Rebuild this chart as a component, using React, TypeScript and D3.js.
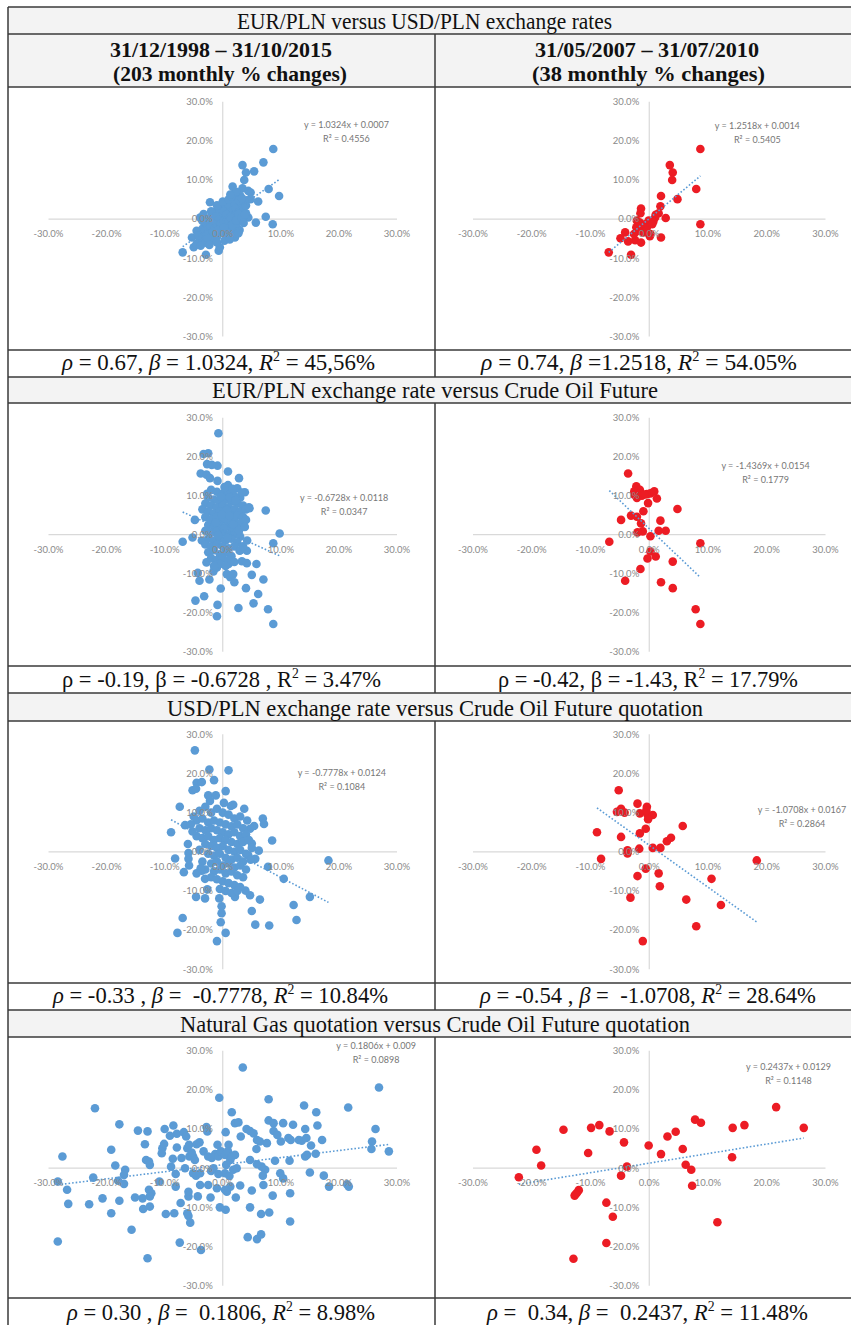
import React from "react";
import * as d3 from "d3";

const W = 851;
const H = 1325;
const BLUE = "#5b9bd5";
const RED = "#ec1c24";

// ---------- texts ----------
const rowTitles = [
  "EUR/PLN versus USD/PLN exchange rates",
  "EUR/PLN exchange rate versus Crude Oil Future",
  "USD/PLN exchange rate versus Crude Oil Future quotation",
  "Natural Gas quotation versus Crude Oil Future quotation",
];
const headerLeft = ["31/12/1998 – 31/10/2015", "(203 monthly % changes)"];
const headerRight = ["31/05/2007 – 31/07/2010", "(38 monthly % changes)"];

// caption parts: text after ρ, after β, after R²
const captionParts: string[][] = [
  [" = 0.67, ", " = 1.0324, ", " = 45,56%"],
  [" = 0.74, ", " =1.2518, ", " = 54.05%"],
  [" = -0.19, ", " = -0.6728 , ", " = 3.47%"],
  [" = -0.42, ", " = -1.43, ", " = 17.79%"],
  [" = -0.33 , ", " =  -0.7778, ", " = 10.84%"],
  [" = -0.54 , ", " =  -1.0708, ", " = 28.64%"],
  [" = 0.30 , ", " =  0.1806, ", " = 8.98%"],
  [" =  0.34, ", " =  0.2437, ", " = 11.48%"],
];
const captionItalic = [true, true, false, false, true, true, true, true];

const slopes = [1.0324, 1.2518, -0.6728, -1.4369, -0.7778, -1.0708, 0.1806, 0.2437];
const intercepts = [0.0007, 0.0014, 0.0118, 0.0154, 0.0124, 0.0167, 0.009, 0.0129];
const rSquared = [0.4556, 0.5405, 0.0347, 0.1779, 0.1084, 0.2864, 0.0898, 0.1148];

const tickValues = [-30, -20, -10, 0, 10, 20, 30];

// ---------- data (monthly % changes) ----------
const eurUsdFull: [number, number][] = [
  [8.7, 17.9], [3.4, 13.8], [7.0, 14.5], [5.4, 12.2], [4.0, 11.9], [3.7, 10.0], [1.7, 8.3], [3.4, 7.9],
  [7.9, 7.7], [9.7, 5.9], [4.4, 7.2], [4.8, 6.8], [6.1, 4.5], [4.8, 5.1], [-2.2, 4.3], [7.4, 0.6],
  [5.7, -0.9], [8.6, -1.3], [4.4, 0.4], [2.9, -2.8], [2.1, -4.7], [-6.9, -8.5], [-2.9, -9.1], [-0.7, -8.1],
  [-0.5, -7.2], [-5.0, -7.2], [-4.5, -6.4], [-5.3, -4.7], [-3.9, -3.8], [-3.9, 0.4], [-3.3, 1.3],
  [-3.0, -2.0], [-2.5, -1.0], [-2.0, -3.0], [-1.5, -0.5], [-1.0, 0.0], [-0.5, 0.5], [0.0, 1.0], [0.5, 1.5],
  [1.0, 2.0], [1.5, 2.5], [2.0, 3.0], [2.5, 3.5], [3.0, 4.0], [-1.0, -1.5], [-0.5, -1.0], [0.0, 0.0],
  [0.5, 0.5], [1.0, 1.0], [1.5, 1.0], [2.0, 1.5], [2.5, 2.0], [3.0, 2.5], [-2.0, -1.0], [-1.5, -2.0],
  [-1.0, -2.5], [-0.5, -2.0], [0.0, -1.5], [0.5, -1.0], [1.0, -0.5], [1.5, 0.0], [2.0, 0.5], [2.5, 0.0],
  [3.0, 1.0], [3.5, 2.0], [-3.0, -4.0], [-2.5, -3.5], [-2.0, -4.5], [-1.5, -4.0], [-1.0, -4.5], [0.0, -3.0],
  [0.5, -2.5], [1.0, -2.0], [1.5, -3.0], [2.0, -2.0], [-3.5, -2.5], [-2.5, 0.0], [-2.0, 0.5], [-1.5, 1.0],
  [-1.0, 2.0], [-0.5, 2.5], [0.0, 3.0], [0.5, 3.5], [1.0, 4.0], [1.5, 4.5], [2.0, 5.0], [2.5, 5.5],
  [3.0, 6.0], [-4.0, -5.5], [-3.5, -5.0], [-3.0, -6.0], [-4.5, -3.0], [-2.0, -5.5], [-1.0, -6.0], [0.5, -4.0],
  [1.5, -4.5], [-0.5, 1.5], [0.5, 2.5], [1.0, 3.0], [2.0, 4.0], [3.0, 3.0], [3.5, 3.0], [4.0, 3.5],
  [4.0, 1.5], [3.5, 0.5], [2.5, -1.0], [1.0, -3.5], [-0.5, -3.5], [-1.5, -2.5], [-2.5, -2.0], [-3.0, -1.0],
  [-3.5, -0.5], [-2.0, 2.0], [-1.0, 3.5], [0.0, 4.5], [1.0, 5.0], [2.0, 6.5], [1.5, 5.8], [2.8, 4.8],
  [0.2, 2.0], [-0.2, -0.5], [0.8, 0.2], [1.2, 1.7], [1.8, 2.2], [-1.2, 0.7], [-0.7, -0.2], [0.3, -0.3],
  [0.6, 1.1], [1.3, 0.5], [2.2, 2.6], [2.7, 1.3], [-1.7, -1.2], [-2.3, -2.3], [-0.3, -1.2], [-0.8, -2.8],
  [-1.8, -3.3], [-2.7, -4.7], [-3.2, -3.2], [-4.2, -4.2], [0.2, -2.2], [1.7, -1.5], [2.3, -0.4], [3.2, 0.2],
  [3.8, 1.1], [-4.5, -6.5], [-3.8, -6.8], [-2.3, -6.6], [0.3, -5.5], [1.2, -5.2], [2.7, -3.6], [3.6, -1.0],
  [4.1, 4.8], [3.3, 5.3], [2.3, 7.0], [1.3, 6.3],
];

const eurUsdCrisis: [number, number][] = [
  [8.7, 17.9], [3.5, 13.8], [4.0, 11.9], [3.9, 10.0], [8.0, 7.7], [4.8, 5.1], [2.0, 5.9], [1.9, 3.3],
  [-1.4, 2.7], [-1.5, 1.5], [1.6, 1.5], [1.1, 1.1], [2.8, 0.3], [1.0, 0.4], [0.7, -0.6], [-0.1, -0.4],
  [-0.7, -1.3], [-2.1, -0.4], [-1.3, -2.1], [-2.2, -2.1], [-0.4, -2.1], [-1.8, -3.0], [-1.0, -3.4], [0.2, -3.8],
  [0.1, -4.4], [2.0, -4.7], [-2.4, -5.4], [-1.4, -6.0], [-4.1, -3.4], [-4.9, -4.9], [-3.6, -5.7], [-6.9, -8.5],
  [-3.1, -9.1], [8.7, -1.3], [-2.6, -3.8], [-0.5, -3.0], [0.5, -1.3], [-1.6, -0.9],
];

const eurOilFull: [number, number][] = [
  [-0.75, 26.0], [-2.5, 20.9], [-3.3, 20.7], [-2.7, 18.1], [-0.9, 17.7], [-1.9, 17.9], [0.9, 16.2], [-3.8, 15.7],
  [-2.8, 15.4], [-2.2, 14.5], [2.8, 14.5], [-0.9, 13.8], [0.9, 12.7], [2.5, 11.9], [3.8, 10.9], [7.4, 6.2],
  [4.6, 6.8], [9.8, 0.3], [8.7, -2.2], [-4.8, 3.8], [-6.9, -1.8], [-5.2, -0.7], [-3.6, -1.5], [5.8, -7.5],
  [5.0, -10.3], [7.0, -11.5], [4.0, -13.7], [6.1, -15.2], [5.3, -17.6], [2.7, -18.8], [7.8, -19.1], [8.7, -22.9],
  [-0.9, -18.0], [-1.0, -20.9], [-4.7, -16.9], [-3.2, -15.8], [-4.0, -11.8], [-2.3, -11.5], [-4.3, -9.8], [-0.35, -13.8],
  [2.0, -12.2], [1.3, -10.9], [0.7, -10.1], [-1.6, -9.4], [-1.0, -8.4], [-2.8, -7.1], [3.3, -6.8], [4.15, -7.3],
  [2.9, -4.1], [4.15, -4.1], [1.0, -7.5], [1.8, -10.1],
  [-2.0, 11.5], [-1.0, 11.0], [0.0, 10.5], [1.0, 11.0], [2.0, 10.0], [3.0, 9.5], [-2.5, 9.5], [-1.5, 9.0],
  [-0.5, 8.5], [0.5, 9.0], [1.5, 8.5], [2.5, 8.0], [3.5, 7.5], [-3.0, 8.0], [-2.0, 7.5], [-1.0, 7.0],
  [0.0, 7.5], [1.0, 7.0], [2.0, 6.5], [3.0, 6.0], [4.0, 6.5], [-3.5, 6.5], [-2.5, 6.0], [-1.5, 5.5],
  [-0.5, 6.0], [0.5, 5.5], [1.5, 5.0], [2.5, 5.0], [3.5, 4.5], [-3.0, 4.5], [-2.0, 4.0], [-1.0, 4.5],
  [0.0, 4.0], [1.0, 3.5], [2.0, 3.5], [3.0, 3.0], [4.0, 3.8], [-2.5, 2.5], [-1.5, 2.0], [-0.5, 2.5],
  [0.5, 2.0], [1.5, 1.5], [2.5, 1.5], [-3.0, 1.0], [-2.0, 0.5], [-1.0, 1.0], [0.0, 0.5], [1.0, 0.0],
  [2.0, 0.0], [3.0, -0.5], [-2.5, -1.0], [-1.5, -1.5], [-0.5, -1.0], [0.5, -1.5], [1.5, -1.0], [2.5, -2.0],
  [-3.0, -2.5], [-2.0, -3.0], [-1.0, -2.5], [0.0, -3.0], [1.0, -3.5], [2.0, -3.0], [3.0, -4.0], [-2.5, -4.5],
  [-1.5, -4.0], [-0.5, -5.0], [0.5, -4.5], [1.5, -5.5], [-2.0, -6.0], [-1.0, -6.5], [0.0, -6.0], [1.0, -6.5],
  [2.0, -7.0], [-0.5, -7.5], [0.5, -8.0], [-1.5, -8.0], [0.3, 12.2], [-0.3, 9.8], [1.2, 9.6], [0.7, 6.3],
  [-1.2, 3.2], [0.2, 1.6], [1.8, 2.6], [0.8, -0.8], [-0.8, -0.2], [2.8, 1.0], [3.8, 2.0], [1.2, 4.8],
  [-0.2, 5.2], [2.2, 8.8], [1.7, 11.8], [-2.7, 10.5], [3.3, 10.8], [4.5, 7.0], [3.5, -3.0], [4.2, -1.5],
];

const eurOilCrisis: [number, number][] = [
  [-3.6, 15.7], [-2.2, 12.4], [-1.6, 11.5], [-2.55, 11.1], [-1.8, 10.6], [-2.1, 9.4], [-1.25, 10.0], [-0.4, 10.4],
  [0.2, 10.6], [0.85, 11.1], [1.3, 9.3], [-0.2, 8.1], [-1.0, 6.0], [4.8, 6.6], [-4.8, 3.8], [-3.1, 4.9],
  [-2.1, 4.6], [-1.4, 2.9], [1.9, 3.6], [-1.1, 0.85], [-2.0, 0.6], [1.6, 1.0], [2.8, 1.0], [0.2, -0.4],
  [-6.8, -1.8], [8.7, -2.2], [0.2, -4.3], [1.1, -5.6], [-0.3, -6.1], [4.0, -6.9], [-1.5, -8.8], [-4.1, -11.8],
  [2.0, -12.2], [4.0, -13.7], [7.9, -19.1], [8.7, -22.9], [-2.5, 10.2], [-0.8, 10.3],
];

const usdOilFull: [number, number][] = [
  [-4.8, 25.9], [-2.3, 21.0], [1.0, 20.8], [-1.5, 18.3], [-4.5, 17.6], [-3.6, 17.8], [-5.2, 15.7], [-4.6, 16.1],
  [0.5, 15.5], [-2.5, 14.4], [-1.2, 14.4], [-7.4, 11.5], [1.4, 11.7], [3.7, 11.0], [6.9, 8.5], [7.1, 7.1],
  [-8.9, 5.0], [8.5, 2.9], [-6.5, 6.8], [18.2, -2.2], [-8.2, -1.7], [-5.9, -0.3], [-5.9, -1.8], [-6.7, -5.2],
  [-3.6, -4.8], [-3.05, -6.9], [7.8, -3.8], [10.5, -6.9], [15.0, -11.5], [12.2, -13.6], [12.7, -17.4], [8.0, -18.8],
  [5.6, -18.6], [5.0, -15.1], [6.4, -12.2], [4.7, -11.1], [3.9, -9.9], [2.1, -11.5], [-0.2, -13.9], [-0.2, -15.7],
  [-0.35, -18.0], [0.5, -20.7], [-1.0, -22.8], [-6.9, -16.9], [-7.8, -20.7], [-4.6, -11.5], [-3.05, -11.9], [-0.6, -11.9],
  [-2.65, -9.6], [6.2, 0.3], [5.6, -1.8], [4.4, -0.9], [5.0, 2.1], [5.4, 6.6], [4.7, 5.9],
  [-4.0, 10.5], [-3.0, 11.5], [-2.0, 10.0], [-1.0, 11.0], [0.0, 10.0], [1.0, 9.5], [2.0, 8.5], [3.0, 9.0],
  [-5.0, 9.0], [-4.5, 8.0], [-3.5, 8.5], [-2.5, 7.5], [-1.5, 8.0], [-0.5, 7.5], [0.5, 7.0], [1.5, 6.5],
  [2.5, 7.0], [3.5, 6.0], [-5.5, 7.0], [-4.0, 6.0], [-3.0, 5.5], [-2.0, 6.0], [-1.0, 5.5], [0.0, 5.0],
  [1.0, 4.5], [2.0, 5.0], [3.0, 4.0], [4.0, 4.5], [-4.5, 4.0], [-3.5, 3.5], [-2.5, 4.0], [-1.5, 3.0],
  [-0.5, 3.5], [0.5, 3.0], [1.5, 2.5], [2.5, 2.0], [3.5, 2.5], [4.5, 3.0], [-3.0, 2.0], [-2.0, 1.5],
  [-1.0, 1.0], [0.0, 1.5], [1.0, 0.5], [2.0, 0.0], [3.0, 0.5], [4.0, -0.5], [-4.0, 0.5], [-2.5, -0.5],
  [-1.5, -1.0], [-0.5, -0.5], [0.5, -1.5], [1.5, -2.0], [2.5, -1.5], [3.5, -2.5], [-3.5, -2.5], [-2.0, -3.0],
  [-1.0, -2.5], [0.0, -3.5], [1.0, -3.0], [2.0, -4.0], [3.0, -3.5], [4.0, -4.5], [-3.0, -4.5], [-1.5, -5.0],
  [-0.5, -4.5], [0.5, -5.5], [1.5, -5.0], [2.5, -6.0], [3.5, -6.5], [-2.0, -6.5], [-1.0, -7.0], [0.0, -7.5],
  [1.0, -8.0], [2.0, -8.5], [3.0, -9.0], [-0.5, -9.5], [0.5, -10.0], [1.5, -10.5], [2.5, -10.0], [-4.5, -5.5],
  [-3.8, -4.2], [-5.2, 5.2], [-6.0, 2.0], [-5.8, -3.5], [4.8, -2.0], [5.0, 1.0], [0.2, 12.5], [-2.2, 13.0],
  [1.8, 12.0], [4.2, 8.0],
];

const usdOilCrisis: [number, number][] = [
  [-5.2, 15.7], [-2.0, 12.3], [-0.4, 11.5], [-4.8, 11.0], [-5.5, 10.2], [-1.6, 9.8], [-0.3, 9.5], [0.6, 9.4],
  [-0.2, 8.3], [5.7, 6.6], [-8.9, 5.0], [-1.6, 4.7], [-0.6, 5.9], [-4.8, 3.8], [3.0, 2.7], [3.7, 3.6],
  [0.6, 1.0], [1.9, 1.0], [-1.7, 0.8], [-3.7, 0.4], [-3.7, -0.4], [-8.2, -1.8], [18.3, -2.2], [-0.6, -4.3],
  [1.6, -5.5], [-2.0, -6.2], [10.6, -6.9], [1.8, -8.8], [-3.2, -11.7], [6.3, -12.2], [12.2, -13.6], [8.0, -19.0],
  [-1.1, -22.8], [-0.5, 10.6], [-4.2, 10.0],
];

const gasOilFull: [number, number][] = [
  [3.45, 25.7], [26.9, 20.6], [-0.6, 18.0], [7.9, 17.6], [-22.0, 15.3], [14.0, 16.0], [21.6, 15.5], [16.1, 14.3],
  [1.55, 14.3], [2.1, 11.5], [2.7, 11.7], [7.9, 12.2], [8.75, 11.5], [10.4, 11.5], [12.1, 11.1], [16.3, 10.9],
  [-17.8, 11.2], [-14.6, 9.6], [-12.95, 9.4], [-10.0, 10.0], [-8.5, 10.9], [-9.1, 8.3], [-7.9, 8.8], [-6.7, 9.2],
  [-6.3, 8.1], [-2.8, 10.5], [-2.65, 9.4], [0.5, 9.2], [4.1, 10.0], [4.7, 9.5], [5.3, 8.9], [3.1, 8.1],
  [8.75, 9.5], [9.4, 8.5], [26.3, 10.0], [14.2, 10.0], [25.7, 6.8], [25.6, 4.9], [28.6, 4.3], [10.0, 6.8],
  [11.3, 7.7], [11.7, 7.2], [13.1, 7.2], [13.6, 7.0], [14.4, 7.7], [17.1, 7.2], [15.2, 5.8], [14.2, 3.0],
  [14.5, 3.4], [16.0, 3.7], [11.5, 1.9], [9.0, 1.9], [4.7, 2.1], [5.9, 7.2], [6.4, 6.8], [7.6, 6.4],
  [5.8, 4.9], [-27.6, 3.0], [-19.2, 4.7], [-18.5, 0.7], [-16.8, -0.4], [-17.0, -1.7], [-17.0, -4.0], [-18.0, -3.2],
  [-22.3, -2.4], [-28.4, -3.4], [-26.8, -5.5], [-26.6, -9.1], [-23.0, -9.2], [-20.7, -7.7], [-19.2, -11.5], [-17.8, -8.3],
  [-15.7, -15.7], [-28.4, -18.7], [-12.95, -23.0], [-13.4, 6.1], [-13.2, 2.1], [-12.7, 1.7], [-12.55, 0.85], [-10.4, 5.1],
  [-10.1, 6.2], [-10.5, 3.8], [-8.6, 2.4], [-7.9, 5.3], [-8.9, 0.4], [-8.1, -1.5], [-8.1, -4.7], [-10.9, -3.4],
  [-12.7, -5.5], [-12.3, -6.4], [-12.55, -7.2], [-13.8, -7.7], [-15.1, -7.5], [-13.7, -10.4], [-12.55, -9.8], [-9.8, -11.7],
  [-8.35, -11.5], [-7.25, -8.9], [-6.1, -11.5], [-5.9, -12.2], [-5.6, -13.9], [-7.4, -19.0], [-3.75, -20.9], [-5.9, -7.2],
  [-5.9, -6.0], [-4.3, -7.2], [-2.1, -7.5], [-3.9, -4.3], [-2.5, -4.3], [-4.6, -1.9], [-5.1, -1.3], [-6.5, 0.0],
  [-6.1, 5.1], [-5.8, 6.0], [-5.1, 3.0], [-5.75, 3.0], [-4.5, 6.1], [-4.0, 6.6], [-4.8, 2.1], [-3.3, 4.3],
  [-2.5, 3.0], [-1.9, 2.6], [-1.3, 3.6], [-0.75, 3.0], [-0.9, 6.0], [-0.3, 4.3], [0.4, 3.4], [1.0, 6.0],
  [0.9, 4.3], [1.55, 3.0], [2.1, 3.4], [1.3, 2.1], [0.6, 0.85], [0.4, -1.3], [1.15, -2.0], [1.8, -0.4],
  [2.4, 0.0], [1.3, -4.7], [0.7, -6.0], [0.4, -5.5], [-1.0, -5.1], [-2.0, -0.7], [-1.6, 0.0], [3.0, -4.4],
  [2.25, -7.5], [-0.5, -10.0], [0.5, -10.6], [4.7, -10.0], [5.0, -5.7], [6.6, -11.7], [8.0, -11.3], [8.6, -7.0],
  [7.0, -4.3], [7.3, -0.4], [6.7, 0.4], [5.9, 1.0], [6.9, -1.9], [9.9, -1.3], [10.4, -2.6], [11.6, -6.4],
  [11.6, -13.6], [4.3, -17.6], [5.9, -18.1], [6.6, -16.9], [15.0, -1.1], [17.4, -1.9], [18.3, -4.7], [21.7, -4.7],
  [21.4, -4.1], [-5.35, 4.0], [-7.1, 2.6], [-0.75, -1.5], [-3.9, -1.3],
];

const gasOilCrisis: [number, number][] = [
  [21.6, 15.6], [7.8, 12.4], [8.8, 11.6], [16.2, 11.0], [14.2, 10.3], [26.3, 10.3], [-14.6, 9.8], [-9.9, 10.3],
  [-8.5, 11.0], [-6.75, 9.4], [4.5, 9.3], [3.1, 8.1], [-4.3, 6.6], [-0.1, 5.8], [5.7, 4.9], [-19.2, 4.7],
  [-10.4, 3.9], [2.0, 3.6], [14.1, 2.8], [-18.4, 0.7], [-3.8, 0.4], [6.2, 0.9], [7.15, -0.4], [-22.2, -2.3],
  [-4.8, -1.9], [7.3, -4.5], [-12.0, -5.6], [-12.3, -6.25], [-12.7, -7.0], [-7.3, -8.8], [-6.2, -12.4], [11.6, -13.8],
  [-7.3, -19.1], [-12.9, -23.1], [-12.5, -6.6],
];

// ---------- layout ----------
const colGeom = [
  { x0: 48.5, x1: 397 },
  { x0: 473, x1: 825.5 },
];
const rowYRange: [number, number][] = [
  [336.5, 101.7],
  [651.7, 417.7],
  [969.3, 734.3],
  [1285.7, 1050.7],
];
const hLines = [7, 34, 87, 350, 377, 403, 666, 693, 721, 983, 1010, 1037, 1298];
const titleRows = [
  { top: 7, bottom: 34, x0: 237, x1: 612 },
  { top: 377, bottom: 403, x0: 212, x1: 658 },
  { top: 693, bottom: 721, x0: 167, x1: 703 },
  { top: 1010, bottom: 1037, x0: 180, x1: 690 },
];
const captionBase = [370, 687, 1003, 1320];
const captionExtent = [
  [62, 375], [481, 797],
  [62, 381], [498, 798],
  [53, 388], [480, 816],
  [67, 375], [487, 808],
];
const divSegments: [number, number][] = [
  [34, 377], [403, 693], [721, 1010], [1037, 1325],
];

const panels = [
  { row: 0, col: 0, pts: eurUsdFull, color: BLUE, eq: [21.3, 24.0] },
  { row: 0, col: 1, pts: eurUsdCrisis, color: RED, eq: [18.4, 23.8] },
  { row: 1, col: 0, pts: eurOilFull, color: BLUE, eq: [20.9, 9.3] },
  { row: 1, col: 1, pts: eurOilCrisis, color: RED, eq: [19.8, 17.7] },
  { row: 2, col: 0, pts: usdOilFull, color: BLUE, eq: [20.5, 20.2] },
  { row: 2, col: 1, pts: usdOilCrisis, color: RED, eq: [26.0, 10.8] },
  { row: 3, col: 0, pts: gasOilFull, color: BLUE, eq: [26.4, 31.2] },
  { row: 3, col: 1, pts: gasOilCrisis, color: RED, eq: [23.7, 25.9] },
];

const fmtTick = (v: number) => v.toFixed(1) + "%";

function Panel({ i }: { i: number }) {
  const p = panels[i];
  const c = colGeom[p.col];
  const x = d3.scaleLinear().domain([-30, 30]).range([c.x0, c.x1]);
  const y = d3.scaleLinear().domain([-30, 30]).range(rowYRange[p.row]);
  const [xmin, xmax] = d3.extent(p.pts, (d) => d[0]) as [number, number];
  const f = (v: number) => slopes[i] * v + intercepts[i] * 100;
  const trend = d3
    .line<number>()
    .x((v) => x(v))
    .y((v) => y(f(v)))([xmin, xmax]);
  const tickFont = "Lato, 'Open Sans', sans-serif";
  return (
    <g>
      <line x1={x(-30)} x2={x(30)} y1={y(0)} y2={y(0)} stroke="#d9d9d9" strokeWidth={1.2} />
      <line x1={x(0)} x2={x(0)} y1={y(30)} y2={y(-30)} stroke="#d9d9d9" strokeWidth={1.2} />
      {p.pts.map((d, k) => (
        <circle key={k} cx={x(d[0])} cy={y(d[1])} r={4.3} fill={p.color} />
      ))}
      <path d={trend || ""} fill="none" stroke={BLUE} strokeWidth={1.6} strokeDasharray="1.6 2" />
      {tickValues.map((t) => (
        <text key={"x" + t} x={x(t)} y={y(0) + 18} textAnchor="middle" fontFamily={tickFont} fontSize={9.5} fill="#8a8a8a">
          {fmtTick(t)}
        </text>
      ))}
      {tickValues.map((t) => (
        <text key={"y" + t} x={x(0) - 10} y={y(t) + 3.3} textAnchor="end" fontFamily={tickFont} fontSize={9.5} fill="#8a8a8a">
          {fmtTick(t)}
        </text>
      ))}
      <text x={x(p.eq[0])} y={y(p.eq[1]) + 3} textAnchor="middle" fontFamily={tickFont} fontSize={9} fill="#767676">
        {`y = ${slopes[i]}x + ${intercepts[i]}`}
      </text>
      <text x={x(p.eq[0])} y={y(p.eq[1]) + 17} textAnchor="middle" fontFamily={tickFont} fontSize={9} fill="#767676">
        {`R² = ${rSquared[i]}`}
      </text>
    </g>
  );
}

function Caption({ i }: { i: number }) {
  const [x0, x1] = captionExtent[i];
  const row = Math.floor(i / 2);
  const it = captionItalic[i] ? "italic" : "normal";
  const parts = captionParts[i];
  return (
    <text
      x={x0}
      y={captionBase[row]}
      textLength={x1 - x0}
      lengthAdjust="spacingAndGlyphs"
      fontFamily="'Liberation Serif', 'Times New Roman', serif"
      fontSize={23}
      fill="#111"
      style={{ whiteSpace: "pre" }}
    >
      <tspan fontStyle={it}>ρ</tspan>
      <tspan>{parts[0]}</tspan>
      <tspan fontStyle={it}>β</tspan>
      <tspan>{parts[1]}</tspan>
      <tspan fontStyle={it}>R</tspan>
      <tspan fontSize={14} dy={-9}>2</tspan>
      <tspan dy={9}>{parts[2]}</tspan>
    </text>
  );
}

export default function App() {
  const serif = "'Liberation Serif', 'Times New Roman', serif";
  return (
    <svg width={W} height={H} style={{ position: "absolute", left: 0, top: 0, background: "#fff" }}>
      <rect x={0} y={0} width={W} height={H} fill="#fff" />
      {/* grey title / header rows */}
      {titleRows.map((r, k) => (
        <rect key={k} x={8} y={r.top} width={W} height={r.bottom - r.top} fill="#f3f3f3" />
      ))}
      <rect x={8} y={34} width={W} height={53} fill="#f3f3f3" />
      {/* panels */}
      {panels.map((_, i) => (
        <Panel key={i} i={i} />
      ))}
      {/* table lines */}
      {hLines.map((h) => (
        <line key={h} x1={8} x2={W + 2} y1={h} y2={h} stroke="#3a3a3a" strokeWidth={1.5} />
      ))}
      <line x1={8} x2={8} y1={7} y2={H} stroke="#3a3a3a" strokeWidth={1.5} />
      {divSegments.map((s, k) => (
        <line key={k} x1={435} x2={435} y1={s[0]} y2={s[1]} stroke="#3a3a3a" strokeWidth={1.5} />
      ))}
      {/* row titles */}
      {titleRows.map((r, k) => (
        <text
          key={k}
          x={r.x0}
          y={r.bottom - 5}
          textLength={r.x1 - r.x0}
          lengthAdjust="spacingAndGlyphs"
          fontFamily={serif}
          fontSize={24}
          fill="#111"
        >
          {rowTitles[k]}
        </text>
      ))}
      {/* header */}
      <text x={110} y={57} textLength={222} lengthAdjust="spacingAndGlyphs" fontFamily={serif} fontWeight="bold" fontSize={22} fill="#111">
        {headerLeft[0]}
      </text>
      <text x={113} y={81} textLength={234} lengthAdjust="spacingAndGlyphs" fontFamily={serif} fontWeight="bold" fontSize={22} fill="#111">
        {headerLeft[1]}
      </text>
      <text x={535} y={57} textLength={224} lengthAdjust="spacingAndGlyphs" fontFamily={serif} fontWeight="bold" fontSize={22} fill="#111">
        {headerRight[0]}
      </text>
      <text x={532} y={81} textLength={233} lengthAdjust="spacingAndGlyphs" fontFamily={serif} fontWeight="bold" fontSize={22} fill="#111">
        {headerRight[1]}
      </text>
      {/* captions */}
      {captionParts.map((_, i) => (
        <Caption key={i} i={i} />
      ))}
    </svg>
  );
}
